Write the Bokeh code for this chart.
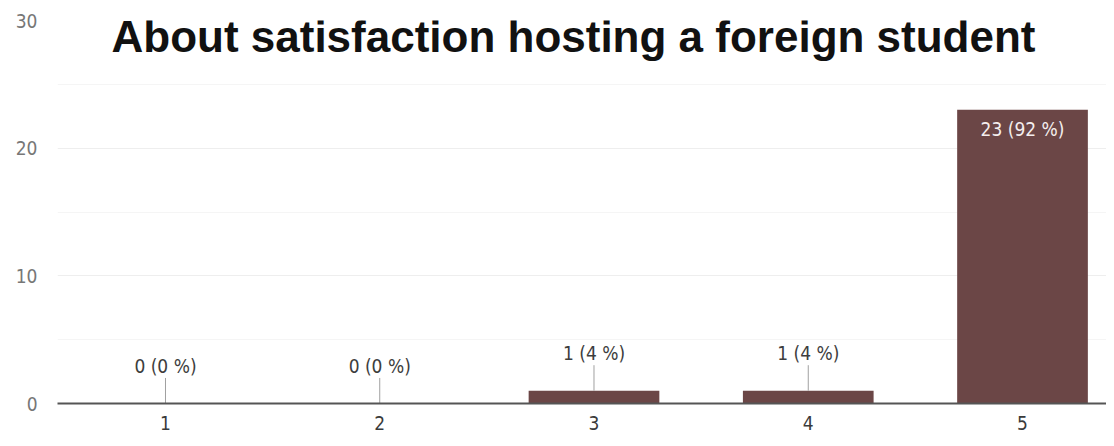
from bokeh.plotting import figure
from bokeh.models import ColumnDataSource, Label, FixedTicker, Range1d
from bokeh.core.properties import value
from bokeh.embed import file_html
from bokeh.resources import INLINE

categories = [1, 2, 3, 4, 5]
counts = [0, 0, 1, 1, 23]
labels = ["0 (0 %)", "0 (0 %)", "1 (4 %)", "1 (4 %)", "23 (92 %)"]
y_ticks = [0, 10, 20, 30]
title_text = "About satisfaction hosting a foreign student"

BAR = "#6b4646"
FONT = "DejaVu Sans Condensed"

p = figure(width=1106, height=438, output_backend="svg", toolbar_location=None,
           x_range=Range1d(0.496, 5.392), y_range=Range1d(0, 30),
           min_border_left=57, min_border_right=0, min_border_top=20, min_border_bottom=35)
p.outline_line_color = None
p.background_fill_color = "white"
p.border_fill_color = "white"

src = ColumnDataSource(dict(x=categories, top=counts))
p.vbar(x="x", top="top", width=0.61, bottom=0, source=src, fill_color=BAR, line_color=None)

# outside labels (small counts) with leader lines
small = [i for i, c in enumerate(counts) if c < 5]
big = [i for i, c in enumerate(counts) if c >= 5]
ssrc = ColumnDataSource(dict(
    x=[categories[i] for i in small],
    y0=[counts[i] for i in small],
    y1=[counts[i] + 2.0 for i in small],
    ty=[counts[i] + 2.1 for i in small],
    t=[labels[i] for i in small]))
p.segment(x0="x", y0="y0", x1="x", y1="y1", source=ssrc, line_color="#a0a0a0", line_width=1)
p.text(x="x", y="ty", text="t", source=ssrc, text_align="center", text_baseline="bottom",
       text_font=value(FONT), text_font_size="19px", text_color="#3d3d3d")

bsrc = ColumnDataSource(dict(
    x=[categories[i] for i in big],
    y=[counts[i] for i in big],
    t=[labels[i] for i in big]))
p.text(x="x", y="y", text="t", source=bsrc, text_align="center", text_baseline="top",
       y_offset=8, text_font=value(FONT), text_font_size="19px", text_color="#f4eeee")

# axes
p.xaxis.ticker = FixedTicker(ticks=categories)
p.xaxis.major_label_overrides = {c: str(c) for c in categories}
p.xaxis.axis_line_color = "#555555"
p.xaxis.axis_line_width = 2
p.xaxis.major_tick_line_color = None
p.xaxis.minor_tick_line_color = None
p.xaxis.major_tick_out = 0
p.xaxis.major_label_standoff = 12
p.xaxis.major_label_text_font = FONT
p.xaxis.major_label_text_font_size = "19px"
p.xaxis.major_label_text_color = "#3a3a3a"

p.yaxis.ticker = FixedTicker(ticks=y_ticks, minor_ticks=[5, 15, 25])
p.yaxis.axis_line_color = None
p.yaxis.major_tick_line_color = None
p.yaxis.minor_tick_line_color = None
p.yaxis.major_tick_out = 0
p.yaxis.major_label_standoff = 16
p.yaxis.major_label_text_font = FONT
p.yaxis.major_label_text_font_size = "19px"
p.yaxis.major_label_text_color = "#777777"

p.xgrid.grid_line_color = None
p.ygrid.grid_line_color = "#eeeeee"
p.ygrid.minor_grid_line_color = "#f5f5f5"

title = Label(x=516, y=367, x_units="screen", y_units="screen", text=title_text,
              text_align="center", text_baseline="middle", text_font="Liberation Sans",
              text_font_style="bold", text_font_size="44px", text_color="#111111")
p.add_layout(title)

open("out.html", "w").write(file_html(p, INLINE))
